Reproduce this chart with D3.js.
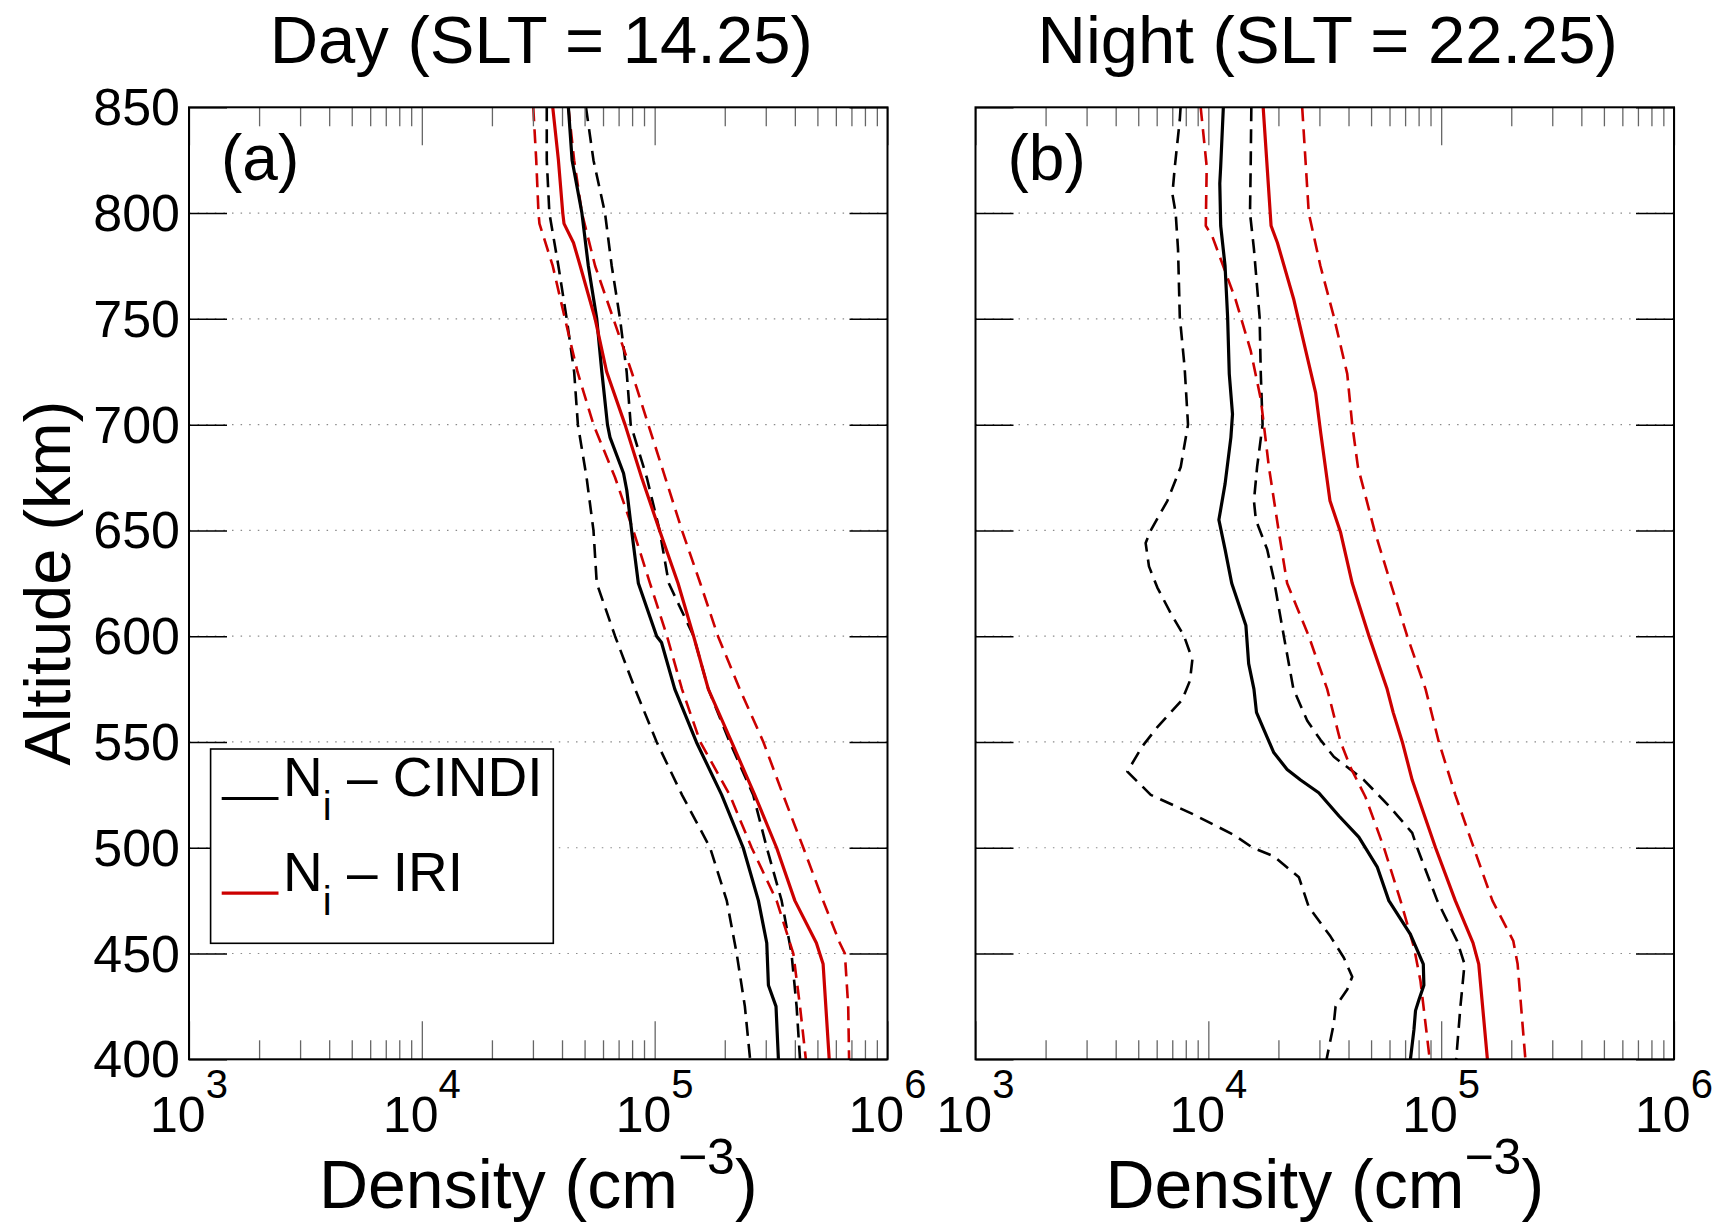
<!DOCTYPE html>
<html><head><meta charset="utf-8">
<script src="https://cdn.jsdelivr.net/npm/d3@7"></script>
<style>body{margin:0;background:#fff;}svg{display:block;}</style>
</head><body>
<svg id="chart" width="1720" height="1224"></svg>
<script>
// ---------------- data ----------------
const titles = ["Day (SLT = 14.25)", "Night (SLT = 22.25)"];
const panelLabels = ["(a)", "(b)"];
const altTicks = [400, 450, 500, 550, 600, 650, 700, 750, 800, 850];
const densTicks = [1e3, 1e4, 1e5, 1e6];
const densTickExp = ["3", "4", "5", "6"];
const legendNames = ["CINDI", "IRI"];
const yLabel = "Altitude (km)";
const xLabel = "Density (cm";

// [altitude km, density cm^-3]
const dayCindi = [[850,4.26e4],[825,4.42e4],[800,4.87e4],[775,5.19e4],[750,5.64e4],[725,5.93e4],[700,6.27e4],[694,6.43e4],[677,7.35e4],[669,7.59e4],[650,7.96e4],[625,8.51e4],[600,1.02e5],[597,1.07e5],[575,1.22e5],[550,1.51e5],[525,1.94e5],[500,2.40e5],[475,2.79e5],[455,3.03e5],[435,3.08e5],[425,3.32e5],[400,3.40e5]];
const dayCindiLo = [[850,3.44e4],[825,3.44e4],[800,3.53e4],[775,3.86e4],[750,4.19e4],[725,4.51e4],[700,4.68e4],[675,5.10e4],[650,5.46e4],[625,5.64e4],[600,6.76e4],[575,8.24e4],[550,1.02e5],[525,1.31e5],[500,1.73e5],[475,2.04e5],[450,2.25e5],[425,2.44e5],[400,2.57e5]];
const dayCindiHi = [[850,5.07e4],[825,5.46e4],[800,6.12e4],[775,6.54e4],[750,7.10e4],[725,7.58e4],[700,7.89e4],[675,9.25e4],[650,1.05e5],[625,1.15e5],[600,1.47e5],[575,1.70e5],[550,2.10e5],[525,2.65e5],[500,3.03e5],[475,3.51e5],[450,3.87e5],[425,4.07e5],[400,4.21e5]];
const dayIri = [[850,3.65e4],[825,3.86e4],[800,4.03e4],[795,4.08e4],[786,4.48e4],[775,4.79e4],[750,5.55e4],[725,6.22e4],[700,7.46e4],[675,8.79e4],[650,1.05e5],[625,1.26e5],[600,1.47e5],[575,1.70e5],[550,2.14e5],[525,2.69e5],[500,3.34e5],[475,4.00e5],[455,4.95e5],[445,5.29e5],[400,5.62e5]];
const dayIriLo = [[850,3.01e4],[825,3.10e4],[800,3.17e4],[795,3.20e4],[789,3.33e4],[775,3.65e4],[750,4.12e4],[725,4.66e4],[700,5.46e4],[675,6.76e4],[650,8.09e4],[625,9.55e4],[600,1.13e5],[575,1.31e5],[550,1.57e5],[525,2.10e5],[500,2.61e5],[475,3.34e5],[450,3.94e5],[425,4.21e5],[400,4.46e5]];
const dayIriHi = [[850,4.26e4],[825,4.51e4],[800,4.87e4],[775,5.55e4],[750,6.65e4],[725,7.96e4],[700,9.39e4],[675,1.11e5],[650,1.31e5],[625,1.57e5],[600,1.87e5],[575,2.32e5],[550,2.93e5],[525,3.56e5],[500,4.35e5],[475,5.29e5],[455,6.24e5],[450,6.56e5],[425,6.78e5],[400,6.84e5]];

const nightCindi = [[850,1.16e4],[822,1.13e4],[814,1.12e4],[794,1.13e4],[775,1.18e4],[751,1.21e4],[724,1.23e4],[705,1.27e4],[694,1.25e4],[672,1.18e4],[655,1.11e4],[641,1.18e4],[625,1.26e4],[605,1.45e4],[587,1.49e4],[575,1.57e4],[564,1.61e4],[556,1.73e4],[545,1.91e4],[537,2.18e4],[532,2.49e4],[526,2.98e4],[515,3.64e4],[505,4.43e4],[491,5.31e4],[475,5.96e4],[459,7.38e4],[445,8.38e4],[435,8.43e4],[428,8.02e4],[423,7.76e4],[414,7.64e4],[400,7.38e4]];
const nightCindiLo = [[850,7.6e3],[844,7.54e3],[822,7.18e3],[809,7.01e3],[800,7.24e3],[783,7.41e3],[751,7.54e3],[727,7.91e3],[700,8.18e3],[680,7.61e3],[664,6.67e3],[650,5.66e3],[644,5.38e3],[633,5.56e3],[623,6.04e3],[611,6.88e3],[600,7.87e3],[589,8.54e3],[579,8.34e3],[570,7.73e3],[557,6.04e3],[548,5.21e3],[536,4.49e3],[525,5.66e3],[516,8.54e3],[506,1.29e4],[500,1.55e4],[496,1.91e4],[486,2.45e4],[472,2.70e4],[458,3.35e4],[448,3.82e4],[439,4.15e4],[433,3.95e4],[425,3.52e4],[417,3.46e4],[400,3.22e4]];
const nightCindiHi = [[850,1.53e4],[822,1.52e4],[800,1.51e4],[783,1.57e4],[751,1.66e4],[724,1.68e4],[700,1.71e4],[680,1.62e4],[664,1.57e4],[655,1.60e4],[641,1.79e4],[627,1.91e4],[600,2.11e4],[575,2.32e4],[560,2.66e4],[551,3.03e4],[543,3.46e4],[532,4.66e4],[519,6.06e4],[507,7.51e4],[500,7.89e4],[475,9.62e4],[456,1.17e5],[445,1.26e5],[425,1.21e5],[400,1.16e5]];
const nightIri = [[850,1.72e4],[794,1.86e4],[786,1.98e4],[759,2.33e4],[735,2.62e4],[715,2.89e4],[696,3.04e4],[664,3.33e4],[649,3.70e4],[625,4.15e4],[600,4.90e4],[575,5.86e4],[564,6.22e4],[550,6.81e4],[532,7.51e4],[500,9.46e4],[475,1.15e5],[455,1.37e5],[445,1.45e5],[400,1.58e5]];
const nightIriLo = [[850,9.27e3],[822,9.84e3],[794,9.75e3],[789,1.04e4],[759,1.31e4],[735,1.52e4],[712,1.68e4],[680,1.82e4],[649,2.01e4],[625,2.18e4],[600,2.70e4],[575,3.24e4],[550,3.70e4],[538,4.08e4],[524,4.73e4],[500,5.68e4],[475,6.69e4],[453,7.64e4],[437,8.15e4],[400,8.93e4]];
const nightIriHi = [[850,2.53e4],[800,2.70e4],[775,3.03e4],[751,3.46e4],[724,3.95e4],[700,4.15e4],[680,4.39e4],[650,5.17e4],[625,6.07e4],[600,7.15e4],[575,8.57e4],[550,9.77e4],[525,1.15e5],[500,1.38e5],[475,1.66e5],[456,2.04e5],[445,2.13e5],[400,2.30e5]];

// ---------------- layout / style ----------------
const FONT = "'Liberation Sans', Arial, Helvetica, sans-serif";
const RED = "#cc0000";
const TOP = 107.3, BOTTOM = 1059.3;
const panelLeft = [189, 975.5];
const PW = 698.5;

const panels = [
  {title: titles[0], label: panelLabels[0], series: [
    {d: dayCindiLo, c: "#000", dash: true}, {d: dayCindiHi, c: "#000", dash: true},
    {d: dayIriLo, c: RED, dash: true}, {d: dayIriHi, c: RED, dash: true},
    {d: dayCindi, c: "#000", dash: false}, {d: dayIri, c: RED, dash: false}]},
  {title: titles[1], label: panelLabels[1], series: [
    {d: nightCindiLo, c: "#000", dash: true}, {d: nightCindiHi, c: "#000", dash: true},
    {d: nightIriLo, c: RED, dash: true}, {d: nightIriHi, c: RED, dash: true},
    {d: nightCindi, c: "#000", dash: false}, {d: nightIri, c: RED, dash: false}]}
];

const svg = d3.select("#chart");
svg.append("rect").attr("width", 1720).attr("height", 1224).attr("fill", "#fff");

function txt(parent, x, y, size, anchor) {
  return parent.append("text").attr("x", x).attr("y", y)
    .attr("font-family", FONT).attr("font-size", size)
    .attr("text-anchor", anchor || "start").attr("fill", "#000");
}

const minorTicks = [];
[1e3, 1e4, 1e5].forEach(d => { for (let m = 2; m <= 9; m++) minorTicks.push(m * d); });

panels.forEach((p, i) => {
  const x0 = panelLeft[i], x1 = x0 + PW;
  const x = d3.scaleLog().domain([1e3, 1e6]).range([x0, x1]);
  const y = d3.scaleLinear().domain([400, 850]).range([BOTTOM, TOP]);
  const g = svg.append("g");

  // grid (dotted)
  g.selectAll("line.grid").data(altTicks.filter(a => a > 400 && a < 850)).join("line")
    .attr("x1", x0).attr("x2", x1).attr("y1", d => y(d)).attr("y2", d => y(d))
    .attr("stroke", "#8a8a8a").attr("stroke-width", 1.2).attr("stroke-dasharray", "1.5,7.1");

  // curves
  const line = d3.line().x(d => x(d[1])).y(d => y(d[0]));
  p.series.forEach(s => {
    g.append("path").attr("d", line(s.d)).attr("fill", "none")
      .attr("stroke", s.c).attr("stroke-width", s.dash ? 2.6 : 3.2)
      .attr("stroke-dasharray", s.dash ? "14,8" : null)
      .attr("stroke-linejoin", "round");
  });

  // ticks via d3 axes (no labels)
  const mk = (axis, tr, vals, size, color, w) => {
    const a = g.append("g").attr("transform", tr)
      .call(axis.tickValues(vals).tickSize(size).tickFormat(""));
    a.select(".domain").remove();
    a.selectAll(".tick line").attr("stroke", color).attr("stroke-width", w);
  };
  mk(d3.axisBottom(x), `translate(0,${BOTTOM})`, minorTicks, -19, "#666", 1.3);
  mk(d3.axisBottom(x), `translate(0,${BOTTOM})`, densTicks, -38, "#666", 1.3);
  mk(d3.axisTop(x), `translate(0,${TOP})`, minorTicks, -19, "#666", 1.3);
  mk(d3.axisTop(x), `translate(0,${TOP})`, densTicks, -38, "#666", 1.3);
  mk(d3.axisLeft(y), `translate(${x0},0)`, altTicks, -38, "#000", 1.5);
  mk(d3.axisRight(y), `translate(${x1},0)`, altTicks, -38, "#000", 1.5);

  // box
  g.append("rect").attr("x", x0).attr("y", TOP).attr("width", PW).attr("height", BOTTOM - TOP)
    .attr("fill", "none").attr("stroke", "#000").attr("stroke-width", 2);

  // x tick labels
  densTicks.forEach((v, k) => {
    const t = txt(g, x(v), 1132, 50, "middle");
    t.append("tspan").text("10");
    t.append("tspan").attr("font-size", 40).attr("dy", -34).text(densTickExp[k]);
  });

  // y tick labels (left panel only)
  if (i === 0) {
    altTicks.forEach(a => {
      txt(g, x0 - 9, y(a) + 18, 52, "end").text(a);
    });
  }

  // title
  txt(g, (x0 + x1) / 2 + 3, 63, 67, "middle").text(p.title);

  // panel label
  txt(g, x0 + 32, 180, 64, "start").text(p.label);

  // x label
  const xl = txt(g, (x0 + x1) / 2, 1208, 68, "middle");
  xl.append("tspan").text(xLabel);
  xl.append("tspan").attr("font-size", 50).attr("dy", -34).text("\u22123");
  xl.append("tspan").attr("dy", 34).text(")");
});

// y label
txt(svg, 0, 0, 65, "middle").attr("transform", "translate(70,583) rotate(-90)").text(yLabel);

// legend (panel a)
const lg = svg.append("g");
lg.append("rect").attr("x", 210.6).attr("y", 749).attr("width", 342.7).attr("height", 194.3)
  .attr("fill", "#fff").attr("stroke", "#000").attr("stroke-width", 1.6);
const legColors = ["#000", RED];
const legY = [796, 890.7];
legendNames.forEach((nm, k) => {
  lg.append("line").attr("x1", 221.7).attr("x2", 278.5).attr("y1", legY[k] + 2.5).attr("y2", legY[k] + 2.5)
    .attr("stroke", legColors[k]).attr("stroke-width", 3.2);
  const t = txt(lg, 283, legY[k], 55, "start");
  t.append("tspan").text("N");
  t.append("tspan").attr("font-size", 40).attr("dy", 24).text("i");
  t.append("tspan").attr("dy", -24).text(" \u2013 " + nm);
});
</script>
</body></html>
